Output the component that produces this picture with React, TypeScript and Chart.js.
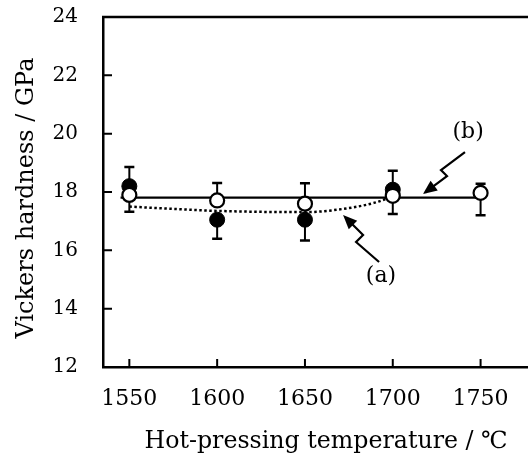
import React, { useEffect, useRef } from 'react';
import { Chart, registerables } from 'chart.js';

Chart.register(...registerables);

// ---- data ----
const xTickValues = [1550, 1600, 1650, 1700, 1750];
const yTickValues = [12, 14, 16, 18, 20, 22, 24];

// (a) filled circles
const tempsA = [1550, 1600, 1650, 1700];
const hvA = [18.2, 17.05, 17.05, 18.08];
const hvA_lo = [18.2, 16.4, 16.34, 18.08];
const hvA_hi = [18.86, 17.05, 17.05, 18.73];

// (b) open circles
const tempsB = [1550, 1600, 1650, 1700, 1750];
const hvB = [17.9, 17.71, 17.6, 17.87, 17.97];
const hvB_lo = [17.32, 17.71, 17.6, 17.25, 17.2];
const hvB_hi = [17.9, 18.31, 18.3, 17.87, 18.28];

// (b) solid trend line
const lineB_x = [1545, 1750];
const lineB_y = [17.81, 17.81];

// (a) dotted trend curve
const curveA_x = [1550, 1575, 1596, 1625, 1650, 1668, 1689, 1700];
const curveA_y = [17.5, 17.42, 17.36, 17.32, 17.31, 17.39, 17.62, 17.85];

// annotations (data coordinates): label text, label position, arrow tip
const annLabels = ['(a)', '(b)'];
const annLabelX = [1693.3, 1742.9];
const annLabelY = [15.12, 20.06];
const annTipX = [1671.7, 1717.2];
const annTipY = [17.21, 17.93];

const xTitle = 'Hot-pressing temperature / \u2103';
const yTitle = 'Vickers hardness / GPa';

const FONT = '"DejaVu Serif", "Liberation Serif", serif';

// zigzag arrow shapes (pixel offsets from the tip)
const arrowShapes = [
  [[0, 0], [20, 20], [13, 27], [36, 47]],
  [[0, 0], [24, -18], [18, -24], [42, -42]],
];

const zeroPad = (s: any) => {
  s.paddingLeft = 0;
  s.paddingRight = 0;
  s.paddingTop = 0;
  s.paddingBottom = 0;
};

const decorPlugin = {
  id: 'decor',
  beforeDatasetsDraw(chart: any) {
    const { ctx, scales } = chart;
    const x = scales.x, y = scales.y;
    ctx.save();
    ctx.strokeStyle = '#000';
    ctx.lineWidth = 2;
    const bar = (xv: number, lo: number, hi: number) => {
      const px = x.getPixelForValue(xv);
      const pl = y.getPixelForValue(lo);
      const ph = y.getPixelForValue(hi);
      if (Math.abs(pl - ph) < 0.5) return;
      ctx.beginPath();
      ctx.moveTo(px, pl);
      ctx.lineTo(px, ph);
      ctx.stroke();
      ctx.lineWidth = 2.5;
      ctx.beginPath();
      ctx.moveTo(px - 5, pl);
      ctx.lineTo(px + 5, pl);
      ctx.moveTo(px - 5, ph);
      ctx.lineTo(px + 5, ph);
      ctx.stroke();
      ctx.lineWidth = 2;
    };
    tempsA.forEach((t, i) => bar(t, hvA_lo[i], hvA_hi[i]));
    tempsB.forEach((t, i) => bar(t, hvB_lo[i], hvB_hi[i]));
    ctx.restore();
  },
  afterDraw(chart: any) {
    const { ctx, scales, chartArea } = chart;
    const x = scales.x, y = scales.y;
    ctx.save();
    ctx.strokeStyle = '#000';
    ctx.fillStyle = '#000';
    // top border
    ctx.lineWidth = 2.5;
    ctx.beginPath();
    ctx.moveTo(chartArea.left - 1, chartArea.top);
    ctx.lineTo(chart.width, chartArea.top);
    ctx.stroke();
    // inner ticks
    ctx.lineWidth = 2;
    ctx.beginPath();
    xTickValues.forEach((v) => {
      const px = x.getPixelForValue(v);
      ctx.moveTo(px, chartArea.bottom);
      ctx.lineTo(px, chartArea.bottom - 8);
    });
    yTickValues.forEach((v) => {
      if (v === 12 || v === 24) return;
      const py = y.getPixelForValue(v);
      ctx.moveTo(chartArea.left, py);
      ctx.lineTo(chartArea.left + 9, py);
    });
    ctx.stroke();

    // x tick labels
    ctx.font = '22px ' + FONT;
    ctx.textAlign = 'center';
    ctx.textBaseline = 'alphabetic';
    xTickValues.forEach((v) => {
      ctx.fillText(String(v), x.getPixelForValue(v), chartArea.bottom + 38);
    });

    // axis titles
    ctx.font = '23.7px ' + FONT;
    ctx.fillText(xTitle, 326, 448);
    ctx.font = '24px ' + FONT;
    ctx.save();
    ctx.translate(33, 198);
    ctx.rotate(-Math.PI / 2);
    ctx.fillText(yTitle, 0, 0);
    ctx.restore();

    // annotations
    ctx.font = '22px ' + FONT;
    ctx.textBaseline = 'middle';
    annLabels.forEach((lab, i) => {
      ctx.fillText(lab, x.getPixelForValue(annLabelX[i]), y.getPixelForValue(annLabelY[i]));
      const tx = x.getPixelForValue(annTipX[i]);
      const ty = y.getPixelForValue(annTipY[i]);
      const pts = arrowShapes[i].map(([dx, dy]) => [tx + dx, ty + dy]);
      const [p0, p1] = pts;
      const ang = Math.atan2(p1[1] - p0[1], p1[0] - p0[0]);
      const headLen = 14, headW = 6;
      ctx.lineWidth = 2.2;
      ctx.beginPath();
      ctx.moveTo(p0[0] + Math.cos(ang) * (headLen - 2), p0[1] + Math.sin(ang) * (headLen - 2));
      for (let k = 1; k < pts.length; k++) ctx.lineTo(pts[k][0], pts[k][1]);
      ctx.stroke();
      const bx = p0[0] + Math.cos(ang) * headLen;
      const by = p0[1] + Math.sin(ang) * headLen;
      ctx.beginPath();
      ctx.moveTo(p0[0], p0[1]);
      ctx.lineTo(bx - Math.sin(ang) * headW, by + Math.cos(ang) * headW);
      ctx.lineTo(bx + Math.sin(ang) * headW, by - Math.cos(ang) * headW);
      ctx.closePath();
      ctx.fill();
    });
    ctx.restore();
  },
};

export default function App() {
  const ref = useRef<HTMLCanvasElement | null>(null);
  useEffect(() => {
    document.body.style.margin = '0';
    const canvas = ref.current;
    if (!canvas) return;
    const chart = new Chart(canvas, {
      type: 'scatter',
      data: {
        datasets: [
          {
            label: 'open',
            data: tempsB.map((t, i) => ({ x: t, y: hvB[i] })),
            pointRadius: 7,
            pointBorderWidth: 2.2,
            pointBackgroundColor: '#fff',
            pointBorderColor: '#000',
            showLine: false,
          },
          {
            label: 'filled',
            data: tempsA.map((t, i) => ({ x: t, y: hvA[i] })),
            pointRadius: 7.5,
            pointBorderWidth: 1,
            pointBackgroundColor: '#000',
            pointBorderColor: '#000',
            showLine: false,
          },
          {
            label: 'b-line',
            data: lineB_x.map((t, i) => ({ x: t, y: lineB_y[i] })),
            showLine: true,
            borderColor: '#000',
            borderWidth: 2.2,
            pointRadius: 0,
          },
          {
            label: 'a-curve',
            data: curveA_x.map((t, i) => ({ x: t, y: curveA_y[i] })),
            showLine: true,
            borderColor: '#000',
            borderWidth: 2.5,
            borderDash: [2.5, 2.5],
            cubicInterpolationMode: 'monotone',
            pointRadius: 0,
          },
        ],
      },
      options: {
        animation: false,
        responsive: true,
        maintainAspectRatio: false,
        layout: { autoPadding: false, padding: { top: 17, right: 0, left: 0, bottom: 0 } },
        plugins: { legend: { display: false }, tooltip: { enabled: false } },
        scales: {
          x: {
            type: 'linear',
            min: 1535,
            max: 1777,
            afterBuildTicks: (s: any) => {
              s.ticks = xTickValues.map((v) => ({ value: v }));
            },
            afterFit: (s: any) => {
              s.height = 90;
              zeroPad(s);
            },
            grid: { display: false, drawTicks: false },
            border: { display: true, color: '#000', width: 2.5 },
            ticks: { display: false },
          },
          y: {
            type: 'linear',
            min: 12,
            max: 24,
            afterBuildTicks: (s: any) => {
              s.ticks = yTickValues.map((v) => ({ value: v }));
            },
            afterFit: (s: any) => {
              s.width = 103;
              zeroPad(s);
            },
            grid: { display: false, drawTicks: false },
            border: { display: true, color: '#000', width: 2.5 },
            ticks: {
              font: { family: FONT, size: 20 },
              color: '#000',
              padding: 25,
              callback: (v: any) => String(v),
            },
          },
        },
      },
      plugins: [decorPlugin],
    } as any);
    return () => chart.destroy();
  }, []);
  return (
    <div style={{ position: 'relative', width: 528, height: 457, overflow: 'hidden' }}>
      <canvas ref={ref} style={{ display: 'block' }} />
    </div>
  );
}
